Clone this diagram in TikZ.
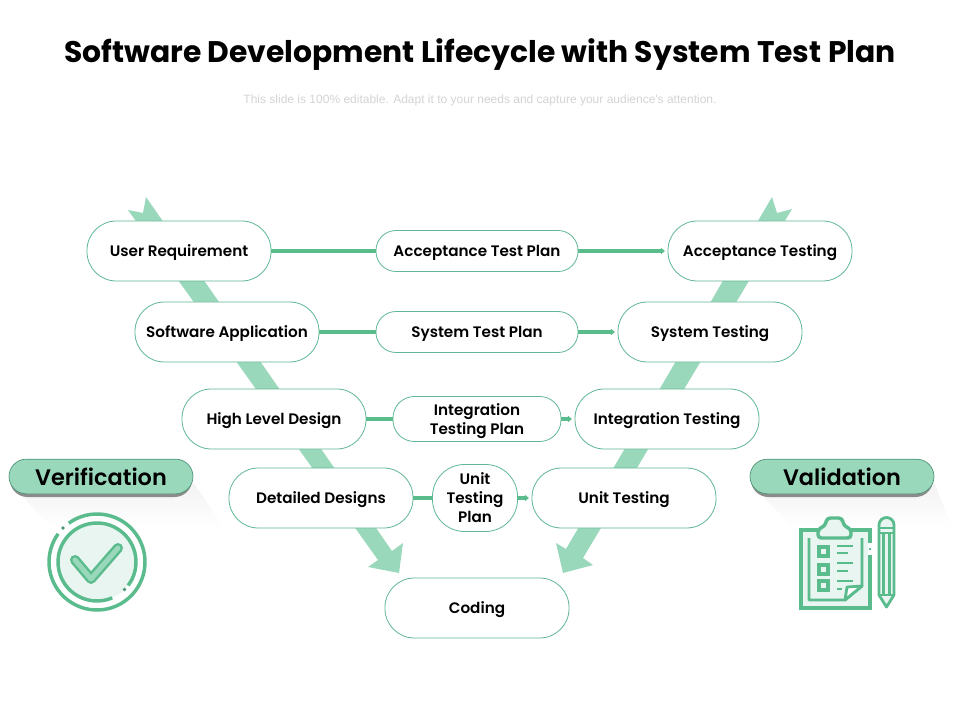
\documentclass[tikz,border=0pt]{standalone}
\usepackage{fontspec}
\setmainfont{Poppins SemiBold}
\newfontfamily\titlefont{Poppins Bold}
\newfontfamily\subfont{Liberation Sans}
\usetikzlibrary{arrows.meta}
\definecolor{band}{HTML}{9AD8BC}
\definecolor{edge}{HTML}{5FB893}
\definecolor{link}{HTML}{5ABB8D}
\definecolor{pale}{HTML}{E9F5F0}
\tikzset{
  x=0.75pt,y=-0.75pt,
  pillbase/.style={draw=edge,line width=0.6pt,fill=white,rounded corners=22pt,minimum width=138pt,minimum height=45pt,inner sep=0pt,align=center,font=\fontsize{11.4}{14.25}\selectfont,text=black},
  pill/.style={pillbase,text height=8.4pt,text depth=0pt},
  plan/.style={pill,rounded corners=15pt,minimum width=151.5pt,minimum height=30.75pt},
  conn/.style={draw=link,line width=2.7pt},
  connarrow/.style={conn,-{Triangle[length=3pt,width=4.6pt]},shorten >=2pt},
  bandshape/.style={fill=band,draw=none},
  badge/.style={draw=edge!80!black,line width=0.5pt,fill=band,rounded corners=13pt,minimum width=138pt,minimum height=26pt,inner sep=0pt,font=\fontsize{16.8}{18}\selectfont,text=black},
  icon/.style={draw=link,line width=2.6pt},
  iconthin/.style={draw=link,line width=2.1pt}
}
\begin{document}
\begin{tikzpicture}
\useasboundingbox (0,0) rectangle (960,720);
\fill[white] (0,0) rectangle (960,720);
% title
\node[font=\titlefont\fontsize{22.35}{26}\selectfont,text=black] (title) at (480,55) {Software Development Lifecycle with System Test Plan};
\node[font=\subfont\fontsize{9}{10}\selectfont,text=black!17] (subtitle) at (480,100) {This slide is 100\% editable. Adapt it to your needs and capture your audience's attention.};
% big arrows
\fill[bandshape] (146,197) -- (143,213) -- (128,210) -- (378,560) -- (368,567) -- (399,573) -- (403,543) -- (392,551) -- cycle;
\fill[bandshape] (772,197) -- (777,213) -- (792,209) -- (583,558) -- (593,565) -- (563,573) -- (556,543) -- (566,549) -- cycle;
% nodes
\node[pill] (ur) at (179,251) {User Requirement};
\node[pill] (sa) at (227,332) {Software Application};
\node[pill] (hl) at (274,419) {High Level Design};
\node[pill] (dd) at (321,498) {Detailed Designs};
\node[plan] (atp) at (477,251) {Acceptance Test Plan};
\node[plan] (stp) at (477,332) {System Test Plan};
\node[pillbase,rounded corners=16pt,minimum width=126pt,minimum height=33.75pt] (itp) at (477,419) {\rule{0pt}{12.5pt}Integration\\Testing Plan};
\node[pillbase,rounded corners=24pt,minimum width=63.75pt,minimum height=50.25pt] (utp) at (475,498) {\rule{0pt}{8.5pt}Unit\\Testing\\Plan};
\node[pill] (at) at (760,251) {Acceptance Testing};
\node[pill] (st) at (710,332) {System Testing};
\node[pill] (it) at (667,419) {Integration Testing};
\node[pill] (ut) at (624,498) {Unit Testing};
\node[pill] (cd) at (477,608) {Coding};
% connectors
\draw[conn] (ur.east) -- (atp.west);
\draw[conn] (sa.east) -- (stp.west);
\draw[conn] (hl.east) -- (itp.west);
\draw[conn] (dd.east) -- (utp.west);
\draw[connarrow] (atp.east) -- (at.west);
\draw[connarrow] (stp.east) -- (st.west);
\draw[connarrow] (itp.east) -- (it.west);
\draw[connarrow] (utp.east) -- (ut.west);
% long shadows
\shade[top color=black!5,bottom color=white,draw=none] (20,494) -- (193,482) -- (224,528) -- (52,528) -- cycle;
\shade[top color=black!5,bottom color=white,draw=none] (761,494) -- (934,482) -- (952,528) -- (793,528) -- cycle;
% badges
\fill[black!45,rounded corners=13pt] (10,462) rectangle (192,497);
\fill[black!45,rounded corners=13pt] (751,462) rectangle (933,497);
\node[badge] (ver) at (101,476.5) {Verification};
\node[badge] (val) at (842,476.5) {Validation};
% check icon
\fill[pale] (97,562) circle[radius=39];
\draw[icon] (97,562) ++(-126:48) arc[start angle=-126,end angle=216,radius=48];
\fill[link!80!black] (63,528) circle[radius=1.9];
\draw[icon] (97,562) ++(37:39) arc[start angle=37,end angle=-293,radius=39];
\fill[link!80!black] (124.5,589.5) circle[radius=1.9];
\draw[link,line width=7.5pt,line cap=round,line join=round] (75,560) -- (91,579) -- (118,548);
\draw[band,line width=3.8pt,line cap=round,line join=round] (75,560) -- (91,579) -- (118,548);
% clipboard icon
\fill[pale] (801,530) rectangle (870,608);
\draw[icon] (801,530) rectangle (870,608);
\fill[white] (868,543) rectangle (872,555);
\fill[link] (868.5,548) rectangle (871,550);
\draw[iconthin,line join=round] (809,538) -- (809,600) -- (845,600) -- (862,586) -- (862,538);
\filldraw[iconthin,fill=white,line join=round] (845,600) -- (847,587) -- (862,586) -- cycle;
\filldraw[icon,fill=pale,rounded corners=2.5pt] (818,538) -- (818,529) -- (825,526) -- (827,518) -- (842,518) -- (844,526) -- (851,529) -- (851,538) -- cycle;
\draw[icon] (819,547) rectangle (828,556);
\draw[icon] (819,565) rectangle (828,574);
\draw[icon] (819,581) rectangle (828,590);
\draw[iconthin] (837,546) -- (853,546);
\draw[iconthin] (837,553) -- (848,553);
\draw[iconthin] (837,563) -- (853,563);
\draw[iconthin] (837,571) -- (848,571);
\draw[iconthin] (837,581) -- (853,581);
\draw[iconthin] (837,589) -- (842,589);
% pencil icon
\filldraw[iconthin,fill=pale,line join=round] (879,595) -- (879,525) arc[start angle=180,end angle=360,radius=7.5] -- (894,595) -- (886.5,607) -- cycle;
\draw[iconthin] (879,528) -- (894,528);
\draw[iconthin] (879,533) -- (894,533);
\draw[iconthin] (879,595) -- (894,595);
\draw[iconthin] (883.5,533) -- (883.5,595);
\draw[iconthin] (889.5,533) -- (889.5,595);
\end{tikzpicture}
\end{document}
